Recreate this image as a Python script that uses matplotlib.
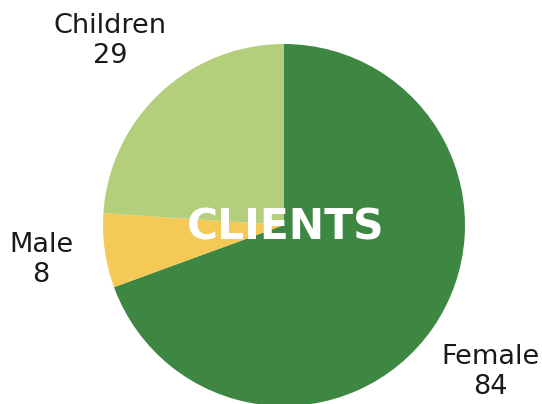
import matplotlib.pyplot as plt

labels = ['Female', 'Male', 'Children']
values = [84, 8, 29]
colors = ['#3d8742', '#f5c955', '#b3cf7c']

W, H = 542, 404
cx, cy, r = 284, 225, 181


def px(x, y):
    # pixel position (from top-left) -> data coords of the pie
    return (x - cx) / r, (cy - y) / r


fig = plt.figure(figsize=(W / 100, H / 100), dpi=100)
ax = fig.add_axes([0, 0, 1, 1])
ax.pie(values, colors=colors, startangle=90, counterclock=False, radius=1,
       wedgeprops=dict(linewidth=0))
ax.set_xlim(-cx / r, (W - cx) / r)
ax.set_ylim(-(H - cy) / r, cy / r)
ax.set_aspect('equal')
ax.axis('off')

label_pos = [(490, 372), (41, 260), (110, 41)]
for lab, v, (x, y) in zip(labels, values, label_pos):
    ax.text(*px(x, y), '{}\n{}'.format(lab, v), ha='center', va='center',
            fontsize=19.5, family='DejaVu Sans', color='#1a1a1a', linespacing=1.2)

ax.text(*px(286, 228), 'CLIENTS', ha='center', va='center', fontsize=30.5,
        fontweight='bold', family='DejaVu Sans', color='white')

fig.savefig('out.png', dpi=100)
